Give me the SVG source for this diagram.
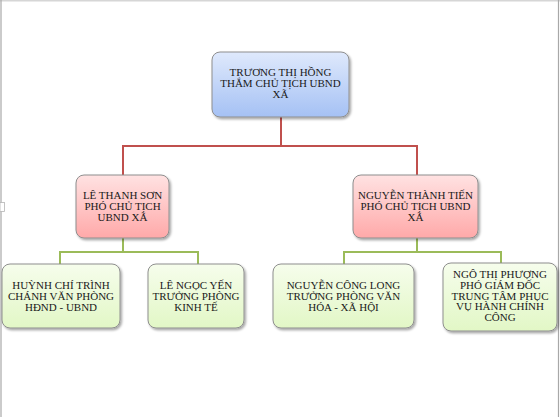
<svg xmlns="http://www.w3.org/2000/svg" width="560" height="417" viewBox="0 0 560 417">
<defs>
<linearGradient id="gBlue" x1="0" y1="0" x2="0" y2="1"><stop offset="0" stop-color="#dfe9fc"/><stop offset="1" stop-color="#a5c1f4"/></linearGradient>
<linearGradient id="gPink" x1="0" y1="0" x2="0" y2="1"><stop offset="0" stop-color="#ffe2e2"/><stop offset="1" stop-color="#ffa9a9"/></linearGradient>
<linearGradient id="gGreen" x1="0" y1="0" x2="0" y2="1"><stop offset="0" stop-color="#f6fdec"/><stop offset="1" stop-color="#e2f7c6"/></linearGradient>
<filter id="sh" x="-10%" y="-10%" width="125%" height="130%"><feDropShadow dx="1.5" dy="1.8" stdDeviation="1.2" flood-color="#000" flood-opacity="0.35"/></filter>
</defs>
<style>
.box{stroke:#8e8e8e;stroke-width:1;filter:url(#sh)}
.b{fill:url(#gBlue)}.p{fill:url(#gPink)}.g{fill:url(#gGreen)}
text{font-family:"Liberation Serif","Times New Roman",serif;font-size:11px;fill:#1a1a1a;text-anchor:middle}
.red{stroke:#c0504d;stroke-width:2;fill:none}
.grn{stroke:#9bbb59;stroke-width:2;fill:none}
</style>
<rect x="0" y="0" width="560" height="417" fill="#fff"/>
<g id="frame">
<line x1="0" y1="0.8" x2="560" y2="0.8" stroke="#d6d6d6" stroke-width="1.6"/>
<line x1="1" y1="0" x2="1" y2="417" stroke="#a8a8a8" stroke-width="1.2"/>
<line x1="558.5" y1="0" x2="558.5" y2="417" stroke="#a8a8a8" stroke-width="1.2"/>
<rect x="0" y="202.5" width="4.5" height="9" fill="#fff" stroke="#b5b5b5" stroke-width="0.8"/>
</g>
<g id="connectors">
<path class="red" d="M281 117V146M123 146H417M123 145V175M417 145V175"/>
<path class="grn" d="M123 238V252M60 252H198M60 251V264M198 251V264"/>
<path class="grn" d="M417 238V252M344 252H501M344 251V264M501 251V263"/>
</g>
<g id="n0"><rect class="box b" x="212" y="52" width="137" height="65" rx="8"/>
<text x="280.5" y="76">TRƯƠNG THỊ HỒNG</text><text x="280.5" y="87">THẮM CHỦ TỊCH UBND</text><text x="280.5" y="98">XÃ</text></g>
<g id="n1"><rect class="box p" x="76" y="175" width="93" height="63" rx="8"/>
<text x="122.5" y="199">LÊ THANH SƠN</text><text x="122.5" y="210">PHÓ CHỦ TỊCH</text><text x="122.5" y="221">UBND XÃ</text></g>
<g id="n2"><rect class="box p" x="353" y="175" width="125" height="63" rx="8"/>
<text x="415.5" y="199">NGUYỄN THÀNH TIẾN</text><text x="415.5" y="210">PHÓ CHỦ TỊCH UBND</text><text x="415.5" y="221">XÃ</text></g>
<g id="n3"><rect class="box g" x="2" y="264" width="118" height="64" rx="8"/>
<text x="61" y="289">HUỲNH CHÍ TRÌNH</text><text x="61" y="300">CHÁNH VĂN PHÒNG</text><text x="61" y="311">HĐND - UBND</text></g>
<g id="n4"><rect class="box g" x="148" y="264" width="96" height="64" rx="8"/>
<text x="196" y="288.5">LÊ NGỌC YẾN</text><text x="196" y="299.5">TRƯỞNG PHÒNG</text><text x="196" y="310.5">KINH TẾ</text></g>
<g id="n5"><rect class="box g" x="273" y="264" width="141" height="64" rx="8"/>
<text x="343.5" y="289">NGUYỄN CÔNG LONG</text><text x="343.5" y="300">TRƯỞNG PHÒNG VĂN</text><text x="343.5" y="311">HÓA - XÃ HỘI</text></g>
<g id="n6"><rect class="box g" x="443" y="263" width="114" height="68" rx="8"/>
<text x="500" y="278">NGÔ THỊ PHƯỢNG</text><text x="500" y="288.8">PHÓ GIÁM ĐỐC</text><text x="500" y="299.6">TRUNG TÂM PHỤC</text><text x="500" y="310.4">VỤ HÀNH CHÍNH</text><text x="500" y="321.2">CÔNG</text></g>
</svg>
